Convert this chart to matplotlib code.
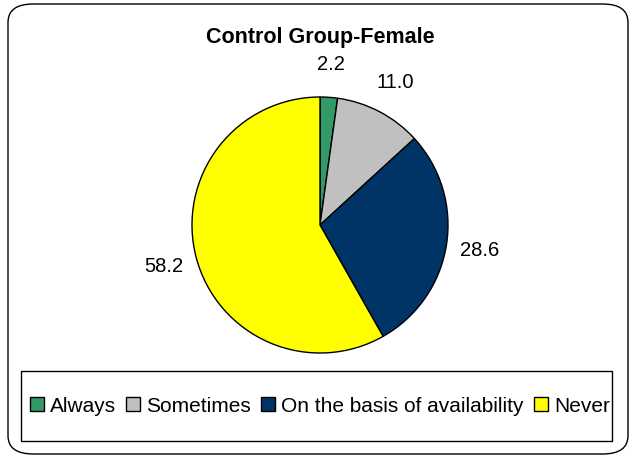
import matplotlib.pyplot as plt
from matplotlib.patches import FancyBboxPatch, Rectangle

# dados do gráfico
categorias = ["Always", "Sometimes", "On the basis of availability", "Never"]
valores = [2.2, 11.0, 28.6, 58.2]
cores = ["#339966", "#C0C0C0", "#003366", "#FFFF00"]
titulo = "Control Group-Female"

plt.rcParams['font.family'] = ['Liberation Sans', 'DejaVu Sans']

W, H = 633, 458
fig = plt.figure(figsize=(W / 100, H / 100), dpi=100)

# borda arredondada externa
borda = FancyBboxPatch((8 / W, 4 / H), 620 / W, 450 / H,
                       boxstyle="round,pad=0,rounding_size=0.04",
                       transform=fig.transFigure, fill=False,
                       edgecolor="black", linewidth=1.0)
fig.patches.append(borda)

# pizza: centro (320, 225), raio 128 px
cx, cy, r, half = 320, 225, 128, 200
ax = fig.add_axes([(cx - half) / W, (H - cy - half) / H, 2 * half / W, 2 * half / H])

rotulos = [f"{v:.1f}" for v in valores]
fatias, textos = ax.pie(valores, colors=cores, startangle=90, counterclock=False,
                        labels=rotulos, labeldistance=1.26,
                        wedgeprops=dict(edgecolor="black", linewidth=1.0),
                        textprops=dict(fontsize=14.5))
for t in textos:
    t.set_ha('center')

lim = half / r
ax.set_xlim(-lim, lim)
ax.set_ylim(-lim, lim)
ax.set_aspect('equal')
ax.axis('off')

fig.text(cx / W, 1 - 37 / H, titulo, ha='center', va='center',
         fontsize=15.5, fontweight='bold')

# caixa da legenda
caixa = Rectangle((21 / W, 1 - 441 / H), 591 / W, 70 / H, transform=fig.transFigure,
                  fill=False, edgecolor="black", linewidth=1.0)
fig.patches.append(caixa)
leg = fig.legend(fatias, categorias, loc='center', bbox_to_anchor=(320 / W, 1 - 406 / H),
                 ncol=4, frameon=False, fontsize=15, handlelength=0.65, handleheight=0.65,
                 handletextpad=0.3, columnspacing=0.5)

fig.savefig("out.png", dpi=100)
